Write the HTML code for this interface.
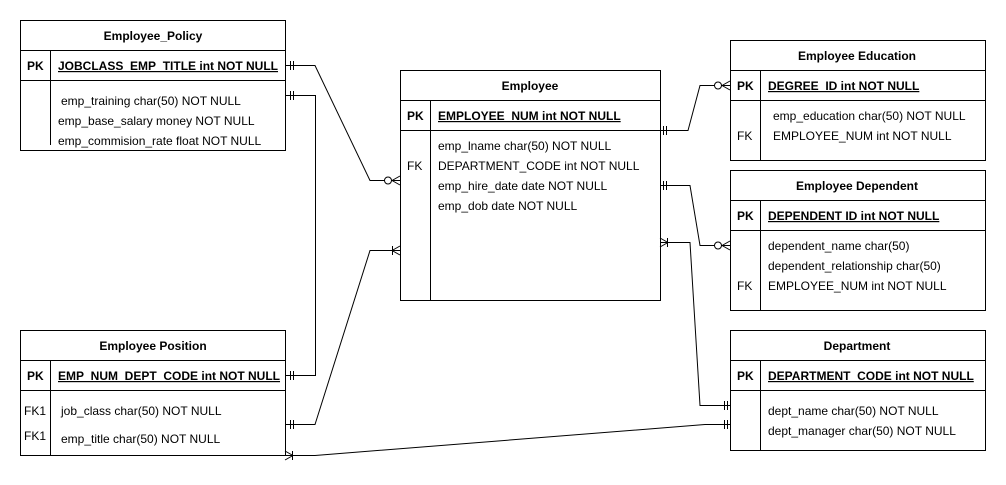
<!DOCTYPE html>
<html><head><meta charset="utf-8"><style>
html,body{margin:0;padding:0;background:#fff;width:1006px;height:485px;overflow:hidden}
svg text{font-family:"Liberation Sans",Arial,sans-serif;font-size:12px;fill:#000}
.b{font-weight:bold}
</style></head><body>
<svg width="1006" height="485" viewBox="0 0 1006 485" xmlns="http://www.w3.org/2000/svg">
<g fill="none" stroke="#000" stroke-width="1">
<!-- Employee_Policy -->
<rect x="20.5" y="20.5" width="265" height="130"/>
<line x1="20" y1="50.5" x2="285" y2="50.5"/><line x1="20" y1="80.5" x2="285" y2="80.5"/>
<line x1="50.5" y1="50" x2="50.5" y2="80"/><line x1="50.5" y1="80" x2="50.5" y2="145"/>
<!-- Employee -->
<rect x="400.5" y="70.5" width="260" height="230"/>
<line x1="400" y1="100.5" x2="660" y2="100.5"/><line x1="400" y1="130.5" x2="660" y2="130.5"/>
<line x1="430.5" y1="100" x2="430.5" y2="300"/>
<!-- Education -->
<rect x="730.5" y="40.5" width="255" height="120"/>
<line x1="730" y1="70.5" x2="985" y2="70.5"/><line x1="730" y1="100.5" x2="985" y2="100.5"/>
<line x1="760.5" y1="70" x2="760.5" y2="160"/>
<!-- Dependent -->
<rect x="730.5" y="170.5" width="255" height="140"/>
<line x1="730" y1="200.5" x2="985" y2="200.5"/><line x1="730" y1="230.5" x2="985" y2="230.5"/>
<line x1="760.5" y1="200" x2="760.5" y2="310"/>
<!-- Department -->
<rect x="730.5" y="330.5" width="255" height="120"/>
<line x1="730" y1="360.5" x2="985" y2="360.5"/><line x1="730" y1="390.5" x2="985" y2="390.5"/>
<line x1="760.5" y1="360" x2="760.5" y2="450"/>
<!-- Position -->
<rect x="20.5" y="330.5" width="265" height="125"/>
<line x1="20" y1="360.5" x2="285" y2="360.5"/><line x1="20" y1="390.5" x2="285" y2="390.5"/>
<line x1="50.5" y1="360" x2="50.5" y2="455"/>

<!-- connectors -->
<polyline points="285,65.5 315,65.5 370,180.5 400,180.5"/>
<line x1="290.5" y1="61" x2="290.5" y2="70"/><line x1="293.5" y1="61" x2="293.5" y2="70"/>
<circle cx="388" cy="180.5" r="3.5" fill="#fff"/>
<line x1="392" y1="180.5" x2="400" y2="176"/><line x1="392" y1="180.5" x2="400" y2="185"/>

<polyline points="285,95.5 315.5,95.5 315.5,375.5 285,375.5"/>
<line x1="290.5" y1="91" x2="290.5" y2="100"/><line x1="293.5" y1="91" x2="293.5" y2="100"/>
<line x1="290.5" y1="371" x2="290.5" y2="380"/><line x1="293.5" y1="371" x2="293.5" y2="380"/>

<polyline points="285,424.5 315,424.5 370,250.5 400,250.5"/>
<line x1="290.5" y1="420" x2="290.5" y2="429"/><line x1="293.5" y1="420" x2="293.5" y2="429"/>
<line x1="392" y1="250.5" x2="400" y2="246"/><line x1="392" y1="250.5" x2="400" y2="255"/><line x1="392.5" y1="246" x2="392.5" y2="255"/>

<polyline points="285,455.5 315,455.5 705,424.5 730,424.5"/>
<line x1="285" y1="451" x2="293" y2="455.5"/><line x1="285" y1="460" x2="293" y2="455.5"/><line x1="292.5" y1="451" x2="292.5" y2="460"/>
<line x1="724.5" y1="420" x2="724.5" y2="429"/><line x1="727.5" y1="420" x2="727.5" y2="429"/>

<polyline points="660,130.5 688,130.5 700,85.5 730,85.5"/>
<line x1="663.5" y1="126" x2="663.5" y2="135"/><line x1="666.5" y1="126" x2="666.5" y2="135"/>
<circle cx="718" cy="85.5" r="3.5" fill="#fff"/>
<line x1="722" y1="85.5" x2="730" y2="81"/><line x1="722" y1="85.5" x2="730" y2="90"/>

<polyline points="660,185.5 690,185.5 700,245.5 730,245.5"/>
<line x1="663.5" y1="181" x2="663.5" y2="190"/><line x1="666.5" y1="181" x2="666.5" y2="190"/>
<circle cx="718" cy="245.5" r="3.5" fill="#fff"/>
<line x1="722" y1="245.5" x2="730" y2="241"/><line x1="722" y1="245.5" x2="730" y2="250"/>

<polyline points="660,242.5 690,242.5 700,405.5 730,405.5"/>
<line x1="660" y1="238" x2="668" y2="242.5"/><line x1="660" y1="247" x2="668" y2="242.5"/><line x1="667.5" y1="238" x2="667.5" y2="247"/>
<line x1="724.5" y1="401" x2="724.5" y2="410"/><line x1="727.5" y1="401" x2="727.5" y2="410"/>
</g>

<text class="b" x="153" y="40" text-anchor="middle">Employee_Policy</text>
<text class="b" x="27" y="70">PK</text>
<text class="b" x="58" y="70" text-decoration="underline">JOBCLASS_EMP_TITLE int NOT NULL</text>
<text x="61" y="105">emp_training char(50) NOT NULL</text>
<text x="58" y="125">emp_base_salary money NOT NULL</text>
<text x="58" y="145">emp_commision_rate float NOT NULL</text>

<text class="b" x="530" y="90" text-anchor="middle">Employee</text>
<text class="b" x="407" y="120">PK</text>
<text class="b" x="438" y="120" text-decoration="underline">EMPLOYEE_NUM int NOT NULL</text>
<text x="407" y="170">FK</text>
<text x="438" y="150">emp_lname char(50) NOT NULL</text>
<text x="438" y="170">DEPARTMENT_CODE int NOT NULL</text>
<text x="438" y="190">emp_hire_date date NOT NULL</text>
<text x="438" y="210">emp_dob date NOT NULL</text>

<text class="b" x="857" y="60" text-anchor="middle">Employee Education</text>
<text class="b" x="737" y="90">PK</text>
<text class="b" x="768" y="90" text-decoration="underline">DEGREE_ID int NOT NULL</text>
<text x="773" y="120">emp_education char(50) NOT NULL</text>
<text x="737" y="140">FK</text>
<text x="773" y="140">EMPLOYEE_NUM int NOT NULL</text>

<text class="b" x="857" y="190" text-anchor="middle">Employee Dependent</text>
<text class="b" x="737" y="220">PK</text>
<text class="b" x="768" y="220" text-decoration="underline">DEPENDENT ID int NOT NULL</text>
<text x="768" y="250">dependent_name char(50)</text>
<text x="768" y="270">dependent_relationship char(50)</text>
<text x="737" y="290">FK</text>
<text x="768" y="290">EMPLOYEE_NUM int NOT NULL</text>

<text class="b" x="857" y="350" text-anchor="middle">Department</text>
<text class="b" x="737" y="380">PK</text>
<text class="b" x="768" y="380" text-decoration="underline">DEPARTMENT_CODE int NOT NULL</text>
<text x="768" y="415">dept_name char(50) NOT NULL</text>
<text x="768" y="435">dept_manager char(50) NOT NULL</text>

<text class="b" x="153" y="350" text-anchor="middle">Employee Position</text>
<text class="b" x="27" y="380">PK</text>
<text class="b" x="58" y="380" text-decoration="underline">EMP_NUM_DEPT_CODE int NOT NULL</text>
<text x="24" y="415">FK1</text>
<text x="61" y="415">job_class char(50) NOT NULL</text>
<text x="24" y="440">FK1</text>
<text x="61" y="443">emp_title char(50) NOT NULL</text>
</svg>
</body></html>
